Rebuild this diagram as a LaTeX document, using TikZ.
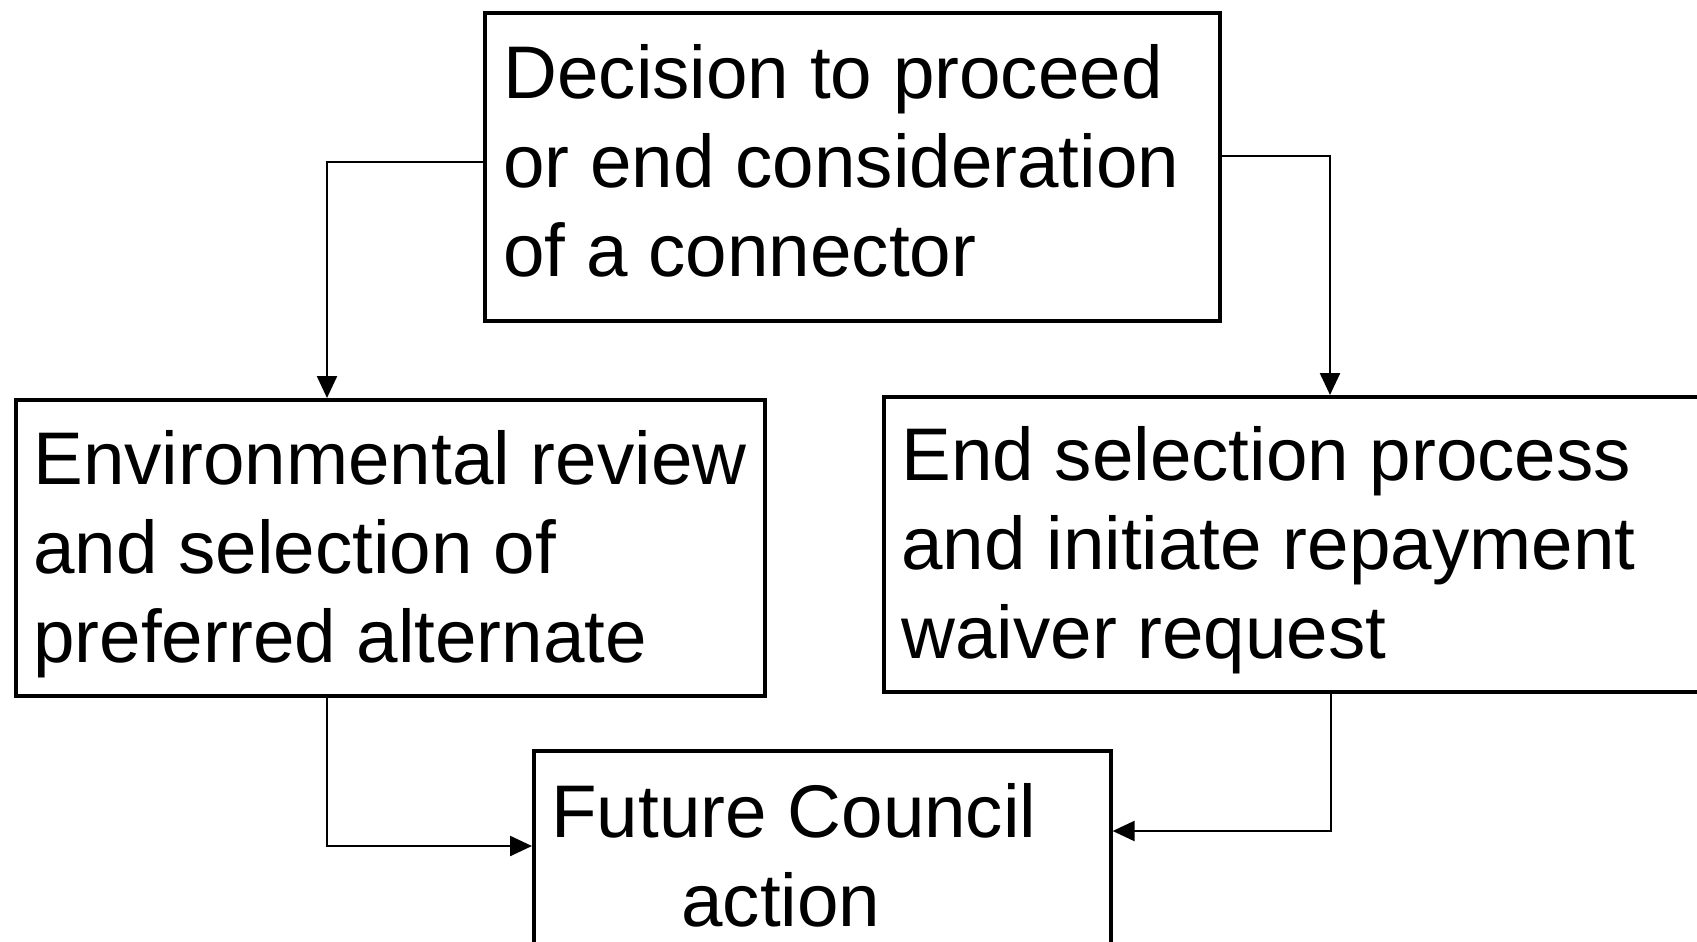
\documentclass[tikz,border=0pt]{standalone}
\usepackage{fontspec}
\setmainfont{Liberation Sans}
\usetikzlibrary{arrows.meta,calc}
\begin{document}
\begin{tikzpicture}[x=0.5pt,y=-0.5pt,
  box/.style={draw, line width=1.8pt, anchor=north west, inner sep=0pt},
  txt/.style={font=\fontsize{37.3}{44.5}\selectfont, align=left, inner sep=0pt, anchor=west},
  conn/.style={line width=1.2pt, -{Triangle[length=11pt,width=10pt]}}]
\clip (0,0) rectangle (1697,942);
\node[box, minimum width=367.5pt, minimum height=154pt] (top) at (483,11) {};
\node[txt] (toptxt) at ([xshift=10pt,yshift=3.2pt]top.west) {Decision to proceed\\or end consideration\\of a connector};
\node[box, minimum width=374.5pt, minimum height=148pt] (env) at (14,398) {};
\node[txt] (envtxt) at ([xshift=9.5pt,yshift=-3.2pt]env.west) {Environmental review\\and selection of\\preferred alternate};
\node[box, minimum width=420pt, minimum height=147.5pt] (end) at (882,395) {};
\node[txt] (endtxt) at ([xshift=9.5pt,yshift=-3.2pt]end.west) {End selection process\\and initiate repayment\\waiver request};
\node[box, minimum width=288.5pt, minimum height=110pt] (bot) at (532,749) {};
\node[txt, anchor=north west] (bottxt) at ([xshift=9.5pt,yshift=-17pt]bot.north west) {Future Council\\\hspace*{65pt}action};
\draw[conn] ([yshift=2.5pt]top.west) -| ([xshift=156.5pt]env.north west);
\draw[conn] ([yshift=5.5pt]top.east) -| ([xshift=224pt]end.north west);
\draw[conn] ([xshift=156.5pt]env.south west) |- ([yshift=-48.5pt]bot.north west);
\draw[conn] ([xshift=224.5pt]end.south west) |- ([yshift=-41pt]bot.north east);
\end{tikzpicture}
\end{document}
